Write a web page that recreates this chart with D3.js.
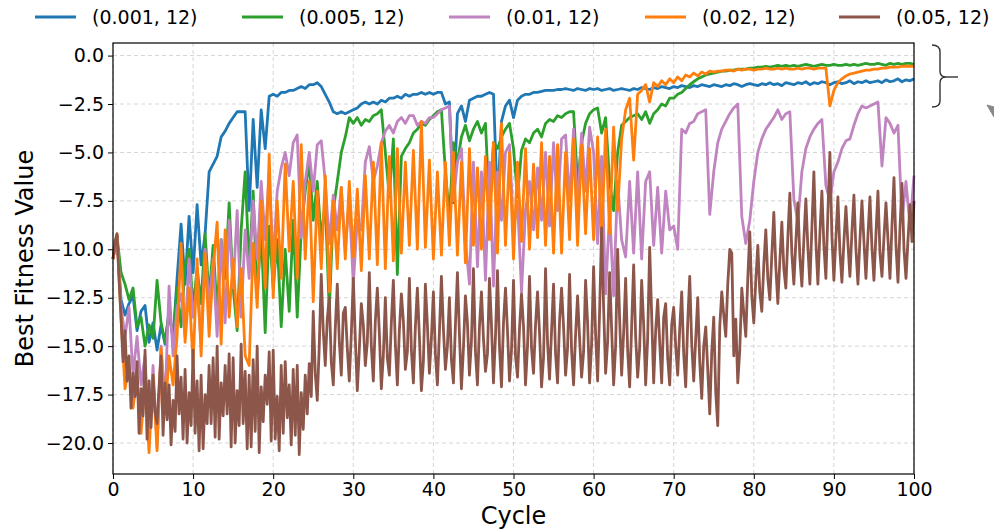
<!DOCTYPE html>
<html>
<head>
<meta charset="utf-8">
<script src="https://cdn.jsdelivr.net/npm/d3@7"></script>
<style>
  body { margin: 0; background: #fff; }
  text { font-family: "DejaVu Sans", sans-serif; }
</style>
</head>
<body>
<svg id="chart" width="994" height="530"></svg>
<script>
var seriesLabels = ["(0.001, 12)", "(0.005, 12)", "(0.01, 12)", "(0.02, 12)", "(0.05, 12)"];
// cycles between two stored values of each series
var seriesSteps = [0.5, 0.5, 0.5, 0.5, 0.25];
var yTicks = [0.0, -2.5, -5.0, -7.5, -10.0, -12.5, -15.0, -17.5, -20.0];
var xTicks = [0, 10, 20, 30, 40, 50, 60, 70, 80, 90, 100];

var fit001 = [
  -10.5,-9.3,-12.6,-13.4,-12.8,-12.4,-14.2,-13.2,-12.9,-14.8,
  -13.8,-15.2,-13.9,-14.9,-13.3,-14.6,-11.5,-8.7,-11.8,-8.3,
  -11.2,-7.7,-10.8,-9.2,-6.0,-5.6,-5.2,-4.2,-3.9,-3.5,
  -3.2,-2.9,-2.9,-2.9,-8.0,-3.3,-6.8,-2.8,-4.8,-2.1,
  -2.0,-2.1,-1.9,-1.9,-1.8,-1.8,-1.7,-1.6,-1.7,-1.5,
  -1.5,-1.4,-1.6,-2.0,-2.4,-2.9,-3.0,-2.9,-3.0,-2.9,
  -2.8,-2.7,-2.5,-2.4,-2.5,-2.4,-2.5,-2.3,-2.4,-2.2,
  -2.2,-2.1,-2.2,-2.0,-2.1,-2.0,-2.0,-1.9,-2.0,-1.9,
  -2.0,-1.9,-1.9,-2.5,-2.4,-7.6,-3.0,-2.6,-3.4,-2.3,
  -2.2,-2.1,-2.1,-2.0,-1.9,-2.0,-7.7,-3.4,-2.6,-2.3,
  -3.2,-2.3,-2.1,-2.0,-2.0,-1.9,-1.9,-1.85,-1.8,-1.8,
  -1.8,-1.75,-1.75,-1.7,-1.75,-1.8,-1.7,-1.75,-1.8,-1.7,
  -1.75,-1.7,-1.8,-1.75,-1.7,-1.8,-1.75,-1.7,-1.75,-1.8,
  -1.7,-1.75,-1.65,-1.7,-1.75,-1.65,-1.7,-1.6,-1.65,-1.7,
  -1.6,-1.65,-1.55,-1.6,-1.65,-1.55,-1.6,-1.5,-1.55,-1.6,
  -1.5,-1.55,-1.6,-1.5,-1.55,-1.45,-1.5,-1.6,-1.5,-1.45,
  -1.5,-1.55,-1.45,-1.5,-1.4,-1.5,-1.45,-1.55,-1.4,-1.45,
  -1.5,-1.4,-1.45,-1.35,-1.5,-1.4,-1.45,-1.35,-1.4,-1.5,
  -1.4,-1.35,-1.45,-1.4,-1.3,-1.45,-1.35,-1.4,-1.3,-1.4,
  -1.35,-1.3,-1.4,-1.25,-1.35,-1.3,-1.2,-1.35,-1.25,-1.3,
  -1.2
];

var fit005 = [
  -10.5,-9.3,-11.2,-11.8,-12.6,-12.0,-14.0,-13.5,-15.0,-13.9,
  -14.6,-11.6,-13.8,-14.8,-13.2,-14.6,-12.0,-14.0,-10.8,-10.0,
  -13.0,-11.0,-12.8,-9.2,-12.5,-9.8,-13.2,-9.5,-11.5,-7.6,
  -12.0,-14.2,-9.0,-6.0,-11.0,-7.0,-12.5,-9.0,-14.3,-8.8,
  -12.0,-9.5,-14.0,-10.0,-13.2,-8.5,-13.5,-9.0,-7.0,-5.5,
  -8.5,-6.5,-9.5,-7.5,-13.2,-8.0,-6.5,-5.0,-4.2,-3.2,
  -3.5,-3.2,-3.6,-3.3,-3.4,-3.1,-3.0,-2.8,-5.0,-7.3,
  -4.3,-11.3,-5.2,-4.8,-4.5,-4.0,-3.8,-3.5,-3.6,-3.3,
  -3.1,-2.9,-2.8,-6.0,-8.3,-4.5,-5.5,-4.2,-3.6,-4.4,
  -3.8,-3.4,-4.0,-3.5,-8.0,-4.5,-4.8,-4.2,-3.8,-3.5,
  -4.8,-7.3,-4.9,-4.3,-4.5,-4.0,-3.8,-4.2,-3.5,-3.3,
  -3.4,-3.1,-3.2,-3.0,-2.9,-2.9,-6.6,-4.5,-3.5,-3.0,
  -2.8,-2.7,-4.0,-3.2,-6.5,-8.0,-5.0,-3.6,-3.4,-3.2,
  -3.1,-3.0,-3.3,-2.9,-3.5,-3.0,-2.8,-2.5,-2.6,-2.2,
  -2.2,-2.0,-1.9,-1.7,-1.5,-1.35,-1.2,-1.1,-1.0,-0.95,
  -0.9,-0.85,-0.8,-0.8,-0.75,-0.75,-0.7,-0.7,-0.7,-0.65,
  -0.65,-0.6,-0.6,-0.55,-0.6,-0.55,-0.5,-0.55,-0.5,-0.55,
  -0.5,-0.55,-0.5,-0.45,-0.5,-0.55,-0.5,-0.45,-0.5,-0.5,
  -0.45,-0.5,-0.5,-0.45,-0.5,-0.45,-0.5,-0.45,-0.4,-0.45,
  -0.45,-0.4,-0.45,-0.5,-0.4,-0.45,-0.4,-0.45,-0.4,-0.4,
  -0.45
];

var fit01 = [
  -10.5,-9.3,-13.0,-14.5,-13.0,-16.5,-14.5,-17.0,-15.5,-19.8,
  -16.0,-20.2,-15.0,-18.0,-11.9,-15.5,-13.0,-12.3,-14.5,-10.5,
  -13.5,-12.0,-14.8,-10.0,-13.0,-10.5,-14.5,-9.5,-13.8,-8.5,
  -12.0,-8.0,-13.5,-9.0,-11.5,-7.5,-10.5,-6.5,-9.5,-6.0,
  -10.8,-7.0,-5.8,-5.0,-6.2,-4.5,-4.1,-9.4,-6.5,-5.0,
  -7.0,-4.6,-4.4,-6.5,-9.7,-7.2,-9.0,-6.8,-10.0,-7.5,
  -11.8,-8.5,-9.0,-5.5,-4.7,-6.5,-5.7,-4.5,-3.9,-3.6,
  -4.0,-3.4,-3.2,-3.5,-3.1,-3.1,-3.6,-3.4,-3.5,-3.2,
  -3.2,-3.0,-2.8,-2.7,-2.6,-7.5,-5.5,-4.8,-9.5,-11.8,
  -5.5,-10.9,-6.0,-11.6,-5.5,-11.9,-6.0,-8.5,-5.0,-4.6,
  -9.0,-7.5,-12.2,-8.0,-6.5,-9.0,-5.8,-8.5,-5.0,-8.8,
  -4.5,-8.0,-4.3,-4.1,-7.5,-3.8,-8.0,-4.0,-7.0,-3.7,
  -5.0,-9.7,-5.2,-12.3,-8.0,-12.4,-6.5,-9.5,-10.4,-6.5,
  -10.2,-6.0,-10.5,-6.5,-6.0,-9.8,-6.8,-10.2,-7.0,-9.0,
  -8.8,-10.0,-3.8,-4.0,-3.5,-3.4,-3.0,-2.9,-2.8,-8.2,
  -6.0,-4.5,-3.8,-3.4,-3.0,-2.7,-2.5,-8.3,-9.7,-8.5,
  -6.5,-5.0,-4.3,-3.8,-3.5,-3.2,-2.8,-3.3,-3.0,-2.9,
  -7.4,-8.6,-6.0,-4.8,-4.2,-3.8,-3.5,-3.3,-6.7,-7.5,
  -6.0,-5.5,-4.8,-4.4,-4.3,-3.6,-3.0,-2.6,-2.7,-2.6,
  -2.5,-2.4,-5.7,-3.2,-3.5,-4.0,-3.6,-8.5,-6.5,-8.8,
  -6.2
];

var fit02 = [
  -10.5,-9.2,-13.5,-17.2,-16.0,-18.2,-16.6,-19.5,-17.0,-20.5,
  -16.5,-20.4,-15.1,-18.5,-15.5,-17.0,-14.5,-9.7,-14.8,-12.0,
  -16.0,-10.5,-15.5,-10.2,-14.5,-11.0,-8.6,-14.9,-9.0,-13.5,
  -10.5,-14.0,-11.0,-15.5,-16.0,-9.7,-13.0,-7.5,-12.0,-5.1,
  -12.5,-7.5,-11.5,-5.6,-10.1,-6.5,-11.5,-4.6,-10.5,-6.5,
  -12.7,-7.0,-11.0,-6.2,-12.2,-7.5,-11.0,-6.8,-10.5,-6.5,
  -10.4,-6.9,-11.1,-6.2,-10.5,-5.5,-10.8,-4.5,-11.0,-5.2,
  -10.6,-4.8,-10.2,-5.5,-9.8,-4.9,-10.0,-3.4,-9.9,-5.4,
  -10.5,-6.0,-10.3,-5.5,-9.8,-5.0,-10.3,-5.5,-10.7,-4.8,
  -9.8,-5.8,-10.0,-5.2,-9.5,-4.5,-10.2,-3.5,-9.8,-5.0,
  -10.5,-5.5,-9.6,-4.8,-10.0,-5.6,-9.4,-4.5,-9.8,-5.2,
  -10.2,-4.6,-10.2,-5.0,-9.5,-4.3,-9.8,-4.6,-9.2,-4.8,
  -9.5,-4.2,-9.7,-3.8,-9.2,-3.7,-8.0,-4.3,-2.8,-2.2,
  -5.4,-2.0,-1.8,-1.5,-2.4,-1.4,-1.6,-1.3,-1.5,-1.2,
  -1.4,-1.1,-1.3,-1.0,-1.1,-0.9,-1.05,-0.85,-0.95,-0.8,
  -0.85,-0.8,-0.8,-0.75,-0.75,-0.8,-0.7,-0.75,-0.7,-0.7,
  -0.75,-0.7,-0.7,-0.65,-0.7,-0.7,-0.65,-0.7,-0.65,-0.7,
  -0.7,-0.65,-0.7,-0.65,-0.65,-0.7,-0.65,-0.65,-0.65,-2.6,
  -1.8,-1.4,-1.2,-1.05,-0.95,-0.9,-0.85,-0.8,-0.75,-0.75,
  -0.7,-0.7,-0.65,-0.65,-0.6,-0.6,-0.6,-0.55,-0.55,-0.55,
  -0.55
];

// quarter-cycle resolution: this run is the noisiest
var fit05 = [
  -10.5,-9.6,-9.2,-11.5, -13.5,-15.8,-14.2,-16.8, -15.5,-18.2,-16.4,-17.6, -15.8,-19.5,-17.2,-18.6, -15.2,-19.8,-16.8,-19.2,
  -16.5,-18.4,-19.0,-17.1, -15.5,-19.6,-16.9,-18.8, -17.0,-20.1,-17.8,-19.4, -15.5,-18.5,-16.6,-19.8, -16.2,-20.0,-17.4,-19.1,
  -15.2,-19.5,-16.8,-20.4, -16.5,-20.3,-17.5,-19.0, -16.0,-19.0,-15.6,-19.7, -15.0,-19.8,-16.9,-18.6, -16.0,-18.5,-15.4,-20.2,
  -15.6,-20.0,-17.3,-19.1, -14.9,-19.0,-16.3,-20.3, -16.5,-20.2,-15.7,-19.4, -15.0,-20.5,-17.1,-18.9, -16.5,-18.0,-15.3,-19.9,
  -15.2,-19.8,-17.6,-20.4, -16.0,-19.5,-15.8,-18.7, -17.0,-20.1,-16.2,-19.6, -16.0,-20.6,-17.4,-19.3, -16.5,-18.5,-15.9,-17.6,
  -13.2,-16.4,-17.8,-15.0, -11.3,-14.2,-16.0,-13.6, -12.5,-15.8,-17.0,-14.1, -11.8,-14.7,-16.5,-13.3, -13.0,-15.1,-16.8,-14.4,
  -11.5,-14.6,-17.3,-15.2, -12.8,-13.9,-16.0,-14.8, -11.2,-15.0,-16.8,-13.7, -12.0,-14.3,-17.2,-15.5, -12.5,-15.6,-16.5,-13.8,
  -11.6,-14.9,-17.0,-14.2, -12.3,-13.7,-16.2,-15.3, -11.5,-15.2,-16.9,-14.0, -12.0,-14.5,-17.3,-15.8, -11.8,-13.9,-16.4,-14.6,
  -12.2,-15.4,-17.0,-14.3, -11.4,-14.1,-16.2,-15.0, -12.5,-15.7,-16.9,-13.9, -11.2,-14.4,-17.2,-15.1, -12.4,-13.8,-16.5,-14.7,
  -11.0,-15.3,-17.0,-14.0, -12.2,-14.6,-16.3,-15.4, -11.5,-13.9,-16.9,-14.5, -11.1,-15.0,-17.1,-13.8, -12.0,-14.2,-16.8,-15.2,
  -11.6,-15.5,-16.6,-14.1, -12.3,-14.0,-17.0,-15.0, -11.4,-15.1,-16.4,-13.9, -12.2,-14.3,-17.1,-15.6, -11.0,-14.8,-16.7,-14.2,
  -11.8,-15.4,-16.9,-13.7, -12.0,-14.0,-16.5,-15.1, -11.3,-15.2,-17.0,-14.4, -12.4,-14.6,-16.6,-15.3, -11.6,-13.8,-16.9,-14.9,
  -10.9,-14.4,-16.8,-13.2, -8.9,-13.0,-16.4,-14.8, -11.2,-14.1,-17.0,-15.0, -10.0,-13.6,-16.5,-14.3, -11.5,-15.2,-17.1,-14.0,
  -10.8,-14.5,-16.6,-15.1, -11.6,-13.9,-17.0,-14.6, -9.9,-13.4,-16.9,-14.2, -12.6,-14.8,-16.9,-13.5, -12.8,-15.6,-17.0,-13.9,
  -13.0,-15.0,-16.5,-14.1, -12.2,-15.4,-17.1,-13.8, -11.4,-14.9,-16.8,-14.6, -12.5,-15.8,-17.7,-15.0, -14.0,-16.2,-18.5,-15.3,
  -13.5,-17.4,-19.1,-14.0, -12.2,-13.4,-14.5,-11.8, -10.0,-10.2,-15.5,-13.6, -16.9,-15.2,-12.0,-13.3, -14.5,-11.5,-9.1,-12.4,
  -13.8,-11.6,-9.8,-12.2, -13.2,-10.8,-9.0,-11.5, -12.6,-10.3,-8.1,-10.9, -12.8,-10.6,-8.6,-11.0, -12.0,-9.4,-7.1,-10.2,
  -11.8,-9.6,-7.6,-10.4, -11.9,-9.5,-7.4,-9.9, -11.8,-8.9,-6.0,-9.6, -11.8,-9.2,-7.0,-9.8, -11.5,-8.1,-5.0,-9.3,
  -11.6,-9.4,-7.3,-10.1, -11.7,-9.6,-7.8,-9.7, -11.4,-9.1,-7.2,-10.0, -11.8,-9.5,-7.5,-9.6, -11.5,-9.3,-7.3,-9.9,
  -11.6,-9.2,-7.0,-10.2, -11.4,-9.4,-7.6,-9.5, -11.5,-8.8,-6.3,-9.8, -11.7,-8.9,-6.6,-10.0, -11.5,-9.5,-7.7,-9.6,
  -7.5
];

var seriesValues = [fit001, fit005, fit01, fit02, fit05];
var seriesColors = ["#1f77b4", "#2ca02c", "#c084c0", "#ff7f0e", "#8c564b"];

var margin = {top: 43, right: 80, bottom: 56, left: 113},
    width = 994 - margin.left - margin.right,
    height = 530 - margin.top - margin.bottom;

var svg = d3.select("#chart");
var g = svg.append("g")
    .attr("transform", "translate(" + margin.left + "," + margin.top + ")");

var x = d3.scaleLinear().domain([0, 100]).range([0, width]);
var y = d3.scaleLinear().domain([-21.6, 0.65]).range([height, 0]);

// grid
g.append("g").selectAll("line")
    .data(xTicks).enter().append("line")
    .attr("x1", d => x(d)).attr("x2", d => x(d))
    .attr("y1", 0).attr("y2", height)
    .attr("stroke", "#d0d0d0").attr("stroke-width", 0.9)
    .attr("stroke-dasharray", "4,3");
g.append("g").selectAll("line")
    .data(yTicks).enter().append("line")
    .attr("x1", 0).attr("x2", width)
    .attr("y1", d => y(d)).attr("y2", d => y(d))
    .attr("stroke", "#d0d0d0").attr("stroke-width", 0.9)
    .attr("stroke-dasharray", "4,3");

// series
for (let s = 0; s < seriesValues.length; s++) {
  let line = d3.line()
      .x((d, i) => x(i * seriesSteps[s]))
      .y(d => y(d));
  g.append("path")
    .datum(seriesValues[s])
    .attr("d", line)
    .attr("fill", "none")
    .attr("stroke", seriesColors[s])
    .attr("stroke-width", 2.8)
    .attr("stroke-linejoin", "round");
}

// axes
var xAxis = g.append("g")
    .attr("transform", "translate(0," + height + ")")
    .call(d3.axisBottom(x).tickValues(xTicks).tickSize(5).tickPadding(4).tickSizeOuter(0));
var yAxis = g.append("g")
    .call(d3.axisLeft(y).tickValues(yTicks).tickFormat(d3.format(".1f")).tickSize(5).tickPadding(4).tickSizeOuter(0));
[xAxis, yAxis].forEach(function (a) {
  a.select(".domain").remove();
  a.selectAll("line").attr("stroke", "#000").attr("stroke-width", 1);
  a.selectAll("text").attr("font-size", "19px").attr("fill", "#000")
    .attr("font-family", "DejaVu Sans, sans-serif");
});

g.append("rect")
    .attr("x", 0).attr("y", 0)
    .attr("width", width).attr("height", height)
    .attr("fill", "none").attr("stroke", "#000").attr("stroke-width", 1.2);

// axis titles
svg.append("text")
    .attr("x", margin.left + width / 2).attr("y", 524)
    .attr("text-anchor", "middle")
    .attr("font-size", "24px")
    .text("Cycle");
svg.append("text")
    .attr("transform", "translate(33," + (margin.top + height / 2) + ") rotate(-90)")
    .attr("text-anchor", "middle")
    .attr("font-size", "24px")
    .text("Best Fitness Value");

// legend across the top
var legendX = [35, 242, 449, 645, 839];
for (var k = 0; k < seriesLabels.length; k++) {
  svg.append("line")
    .attr("x1", legendX[k]).attr("x2", legendX[k] + 41)
    .attr("y1", 17).attr("y2", 17)
    .attr("stroke", seriesColors[k]).attr("stroke-width", 2.8);
  svg.append("text")
    .attr("x", legendX[k] + 57).attr("y", 24)
    .attr("font-size", "19px")
    .text(seriesLabels[k]);
}

// bracket annotation on the right
svg.append("path")
    .attr("d", "M932,45 Q940,45 940,52 L940,71 Q940,77 946,77 Q940,77 940,83 L940,101 Q940,107 932,107")
    .attr("fill", "none").attr("stroke", "#333").attr("stroke-width", 1.4);
svg.append("line")
    .attr("x1", 946).attr("x2", 958).attr("y1", 77).attr("y2", 77)
    .attr("stroke", "#333").attr("stroke-width", 1.4);
svg.append("path")
    .attr("d", "M987,105 L994,107 L994,117 Z")
    .attr("fill", "#888").attr("stroke", "#888");
</script>
</body>
</html>
